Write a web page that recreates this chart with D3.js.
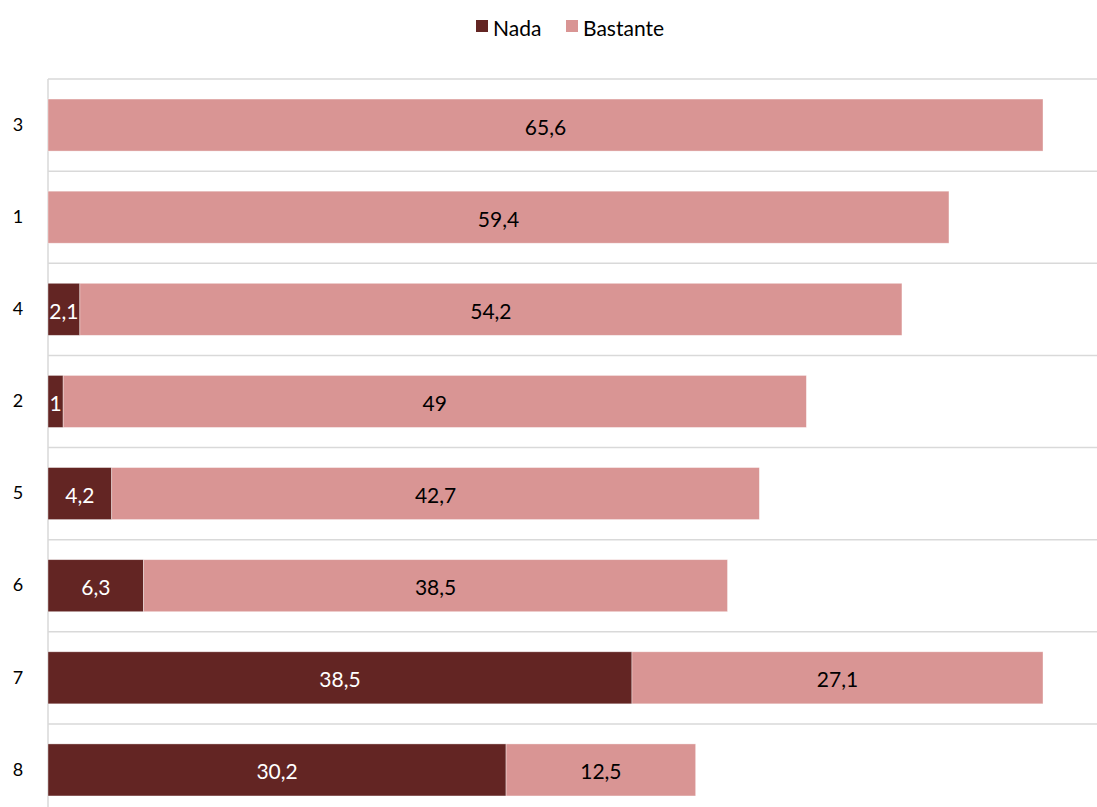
<!DOCTYPE html>
<html><head><meta charset="utf-8">
<script src="https://cdn.jsdelivr.net/npm/d3@7"></script>
<style>body{margin:0;background:#fff}svg{display:block}text{font-family:Lato,"Open Sans",sans-serif}</style>
</head><body><svg id="c" width="1097" height="807"></svg>
<script>
const categories = ["3","1","4","2","5","6","7","8"];
const nada = [0,0,2.1,1,4.2,6.3,38.5,30.2];
const bastante = [65.6,59.4,54.2,49,42.7,38.5,27.1,12.5];
const seriesNames = ["Nada","Bastante"];
const colors = ["#632523","#D99594"];

const svg = d3.select("#c");
const plotLeft = 48, plotTop = 79, bandH = 92.125;
const x = d3.scaleLinear().domain([0,65.6]).range([plotLeft,1043]);
const y = d3.scaleBand().domain(categories).range([plotTop, plotTop+bandH*categories.length]).paddingInner(0.435).paddingOuter(0.2175);

const fmt = v => String(v).replace(".", ",");

// gridlines (category boundaries)
const g = svg.append("g");
for (let i=0;i<=categories.length;i++){
  const yy = plotTop + i*bandH;
  g.append("line").attr("x1",plotLeft).attr("x2",1097).attr("y1",yy).attr("y2",yy)
    .attr("stroke","#d9d9d9").attr("stroke-width",1.5);
}
g.append("line").attr("x1",plotLeft).attr("x2",plotLeft).attr("y1",plotTop).attr("y2",807).attr("stroke","#d9d9d9").attr("stroke-width",1.5);

const data = categories.map((c,i)=>({c, vals:[nada[i], bastante[i]]}));
data.forEach(d=>{
  let acc = 0;
  d.vals.forEach((v,k)=>{
    if (v>0){
      svg.append("rect").attr("x",x(acc)).attr("y",y(d.c)).attr("width",x(acc+v)-x(acc)).attr("height",y.bandwidth())
        .attr("fill",colors[k]).attr("stroke","#fff").attr("stroke-opacity",0.5).attr("stroke-width",0.75);
      svg.append("text").attr("x",(x(acc)+x(acc+v))/2).attr("y",y(d.c)+y.bandwidth()/2+1)
        .attr("text-anchor","middle").attr("dominant-baseline","central")
        .attr("font-size",21).attr("fill",k===0?"#fff":"#000").text(fmt(v));
    }
    acc += v;
  });
});

// y labels
const yAxis = d3.axisLeft(y).tickSize(0).tickPadding(0);
const ya = svg.append("g").attr("transform",`translate(${plotLeft},0)`).call(yAxis);
ya.select(".domain").remove();
ya.selectAll("text").attr("x",-30).attr("text-anchor","middle").attr("font-size",18).attr("fill","#000").style("font-family","Lato,'Open Sans',sans-serif");

// legend
const leg = svg.append("g");
const items = [{n:seriesNames[0],c:colors[0],x:476},{n:seriesNames[1],c:colors[1],x:566}];
items.forEach(it=>{
  leg.append("rect").attr("x",it.x).attr("y",20).attr("width",12).attr("height",12).attr("fill",it.c);
  leg.append("text").attr("x",it.x+17).attr("y",27).attr("dominant-baseline","central").attr("font-size",21).attr("fill","#000").text(it.n);
});
</script></body></html>
